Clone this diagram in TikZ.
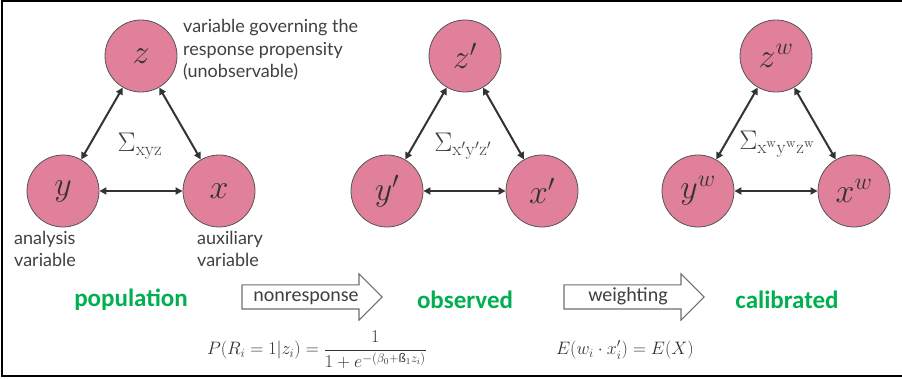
\RequirePackage{fix-cm}
\documentclass[tikz,border=0pt]{standalone}
\usepackage{amsmath,amssymb}
\usepackage[no-math]{fontspec}
\setmainfont{Lato}
\newfontfamily\calfont{Carlito}
\usetikzlibrary{arrows.meta,shapes.arrows}
\definecolor{CVpink}{RGB}{224,128,155}
\definecolor{CVedge}{RGB}{85,85,85}
\definecolor{CVdark}{RGB}{51,51,51}
\definecolor{CVtext}{RGB}{64,64,64}
\definecolor{CVgreen}{RGB}{0,176,80}
\definecolor{CVbox}{RGB}{110,110,110}
\tikzset{
  var/.style={circle,draw=CVedge,line width=0.8pt,fill=CVpink,minimum size=72pt,
              inner sep=0pt,text=CVdark,font=\fontsize{34}{38}\selectfont},
  note/.style={anchor=base west,align=left,inner sep=0pt,text=CVtext,
               font=\fontsize{18}{22.5}\selectfont},
  cov/.style={inner sep=0pt,text=CVtext,font=\fontsize{27}{30}\selectfont},
  stagename/.style={inner sep=0pt,text=CVgreen,font=\calfont\bfseries\fontsize{25}{29}\selectfont},
  flow/.style={single arrow,draw=CVbox,line width=1.1pt,fill=white,
               single arrow head extend=11pt,single arrow head indent=0pt,
               minimum height=140pt,text height=12pt,text depth=3pt,inner ysep=4pt,
               text=CVtext,font=\calfont\fontsize{20}{24}\selectfont},
  eq/.style={inner sep=0pt,text=CVdark,font=\fontsize{18}{22}\selectfont},
  rel/.style={{Triangle[length=7pt,width=7pt]}-{Triangle[length=7pt,width=7pt]},
              line width=2pt,draw=CVdark},
}
\begin{document}
\begin{tikzpicture}[x=1pt,y=-1pt]
  \useasboundingbox (0,0) rectangle (902,379);
  \coordinate (fa) at (902,1);
  \coordinate (fb) at (2,1);
  \coordinate (fc) at (2,376);
  \coordinate (fd) at (902,376);
  \draw[line width=2pt] (fa) -- (fb) -- (fc) -- (fd);
  % population
  \node[var] (z1) at (141,56) {$z$};
  \node[var] (y1) at (63,191) {$y$};
  \node[var] (x1) at (219,191) {$x$};
  \draw[rel] (z1) -- (y1);
  \draw[rel] (z1) -- (x1);
  \draw[rel] (y1) -- (x1);
  \node[cov] (s1) at (140,146) {$\Sigma_{\mathrm{xyz}}$};
  \node[note] (lz) at (183,78) {variable governing the\\response propensity\\(unobservable)};
  \node[note] (ly) at (14,267) {analysis\\variable};
  \node[note] (lx) at (197,267) {auxiliary\\variable};
  % observed
  \node[var] (z2) at (465,56) {$z'$};
  \node[var] (y2) at (387,191) {$y'$};
  \node[var] (x2) at (542,191) {$x'$};
  \draw[rel] (z2) -- (y2);
  \draw[rel] (z2) -- (x2);
  \draw[rel] (y2) -- (x2);
  \node[cov] (s2) at (463,146) {$\Sigma_{\mathrm{x'y'z'}}$};
  % calibrated
  \node[var] (z3) at (776,56) {$z^w$};
  \node[var] (y3) at (698,191) {$y^w$};
  \node[var] (x3) at (854,191) {$x^w$};
  \draw[rel] (z3) -- (y3);
  \draw[rel] (z3) -- (x3);
  \draw[rel] (y3) -- (x3);
  \node[cov] (s3) at (777,144) {$\Sigma_{\mathrm{x^w y^w z^w}}$};
  % stages
  \node[stagename] (pop) at (131,300) {population};
  \node[flow] (nr) at (306,297) {nonresponse};
  \node[stagename] (obs) at (465,300) {observed};
  \node[flow] (wt) at (628,297) {weighting};
  \node[stagename] (cal) at (787,300) {calibrated};
  \node[eq] (f1) at (317,350) {$P(R_i = 1|z_i) = \dfrac{1}{1+e^{-(\beta_0+\text{\ss}_1 z_i)}}$};
  \node[eq] (f2) at (625,350) {$E(w_i\cdot x_i') = E(X)$};
\end{tikzpicture}
\end{document}
